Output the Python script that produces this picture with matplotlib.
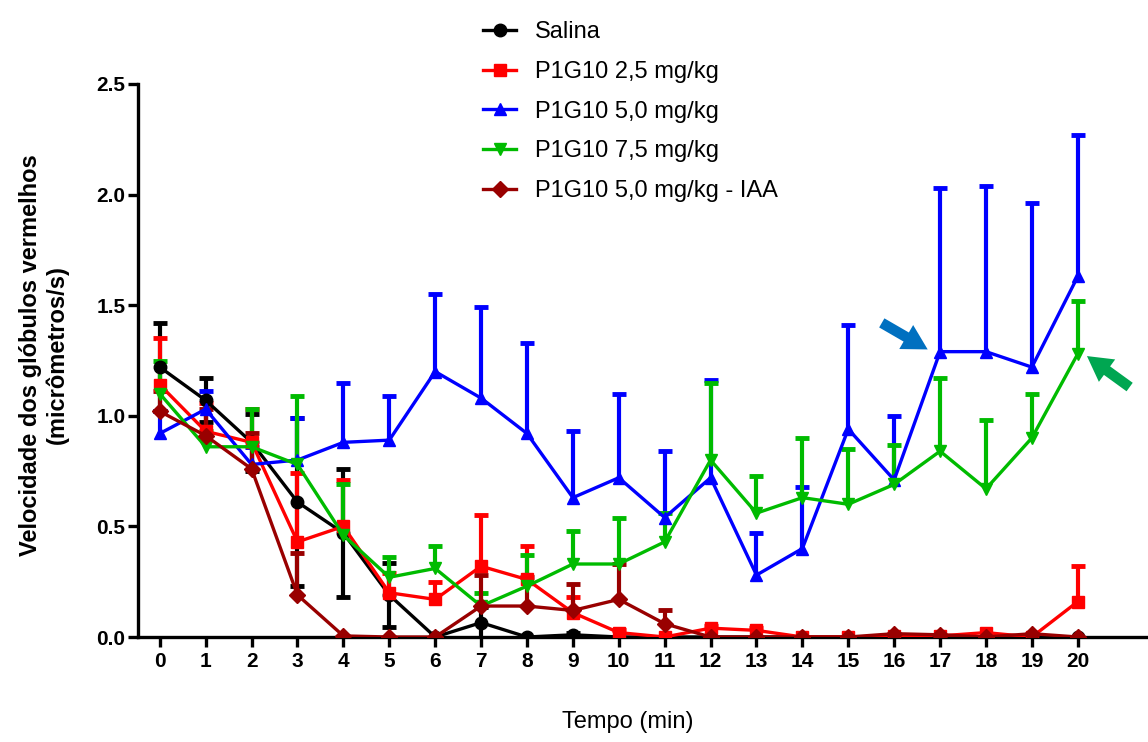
import matplotlib
matplotlib.use('Agg')
import matplotlib.pyplot as plt
import numpy as np

plt.rcParams['font.family'] = ['Liberation Sans', 'DejaVu Sans']

tempo = list(range(21))

# Salina (barras de erro nos dois sentidos)
salina = [1.22, 1.07, 0.88, 0.61, 0.47, 0.19, 0.0, 0.065, 0.0, 0.01, 0.0,
          0.0, 0.0, 0.0, 0.0, 0.0, 0.0, 0.0, 0.0, 0.0, 0.0]
salina_err = [0.20, 0.10, 0.13, 0.38, 0.29, 0.145, 0.0, 0.07, 0.0, 0.01, 0.0,
              0.0, 0.0, 0.0, 0.0, 0.0, 0.0, 0.0, 0.0, 0.0, 0.0]

# P1G10 2,5 mg/kg
p25 = [1.14, 0.93, 0.88, 0.43, 0.50, 0.20, 0.17, 0.32, 0.26, 0.11, 0.02,
       0.0, 0.04, 0.03, 0.0, 0.0, 0.005, 0.005, 0.02, 0.0, 0.16]
p25_err = [0.21, 0.13, 0.15, 0.31, 0.21, 0.09, 0.08, 0.23, 0.15, 0.07, 0.01,
           0.0, 0.01, 0.01, 0.0, 0.0, 0.0, 0.0, 0.0, 0.0, 0.16]

# P1G10 5,0 mg/kg
p50 = [0.92, 1.03, 0.78, 0.80, 0.88, 0.89, 1.20, 1.08, 0.92, 0.63, 0.72,
       0.54, 0.72, 0.28, 0.40, 0.94, 0.71, 1.29, 1.29, 1.22, 1.63]
p50_err = [0.10, 0.08, 0.08, 0.19, 0.27, 0.20, 0.35, 0.41, 0.41, 0.30, 0.38,
           0.30, 0.44, 0.19, 0.28, 0.47, 0.29, 0.74, 0.75, 0.74, 0.64]

# P1G10 7,5 mg/kg
p75 = [1.10, 0.86, 0.86, 0.78, 0.46, 0.27, 0.31, 0.14, 0.23, 0.33, 0.33,
       0.43, 0.80, 0.56, 0.63, 0.60, 0.69, 0.84, 0.67, 0.90, 1.28]
p75_err = [0.15, 0.07, 0.17, 0.31, 0.23, 0.09, 0.10, 0.06, 0.14, 0.15, 0.21,
           0.13, 0.35, 0.17, 0.27, 0.25, 0.18, 0.33, 0.31, 0.20, 0.24]

# P1G10 5,0 mg/kg - IAA
iaa = [1.02, 0.91, 0.76, 0.19, 0.005, 0.0, 0.0, 0.14, 0.14, 0.12, 0.17,
       0.06, 0.0, 0.0, 0.0, 0.0, 0.015, 0.01, 0.0, 0.015, 0.0]
iaa_err = [0.09, 0.12, 0.16, 0.19, 0.0, 0.0, 0.0, 0.14, 0.13, 0.12, 0.16,
           0.06, 0.0, 0.0, 0.0, 0.0, 0.0, 0.0, 0.0, 0.0, 0.0]

series = [
    ('Salina', salina, salina_err, 'black', 'o', True),
    ('P1G10 2,5 mg/kg', p25, p25_err, '#FF0000', 's', False),
    ('P1G10 5,0 mg/kg', p50, p50_err, '#0000FF', '^', False),
    ('P1G10 7,5 mg/kg', p75, p75_err, '#00BB00', 'v', False),
    ('P1G10 5,0 mg/kg - IAA', iaa, iaa_err, '#990000', 'D', False),
]

fig = plt.figure(figsize=(11.48, 7.42), dpi=100)
ax = fig.add_axes([0.120, 0.1415, 0.878, 0.7453])

handles = []
for label, vals, err, color, mk, both in series:
    vals = np.array(vals)
    err = np.array(err)
    top = vals + err
    bottom = vals - err if both else vals
    show = err > 0
    x = np.array(tempo)[show]
    # barras de erro (so para cima, exceto Salina)
    ax.vlines(x, bottom[show], top[show], color=color, linewidth=3, zorder=2)
    ax.plot(x, top[show], linestyle='none', marker='_', markersize=10,
            markeredgewidth=3.5, color=color, zorder=2)
    if both:
        ax.plot(x, bottom[show], linestyle='none', marker='_', markersize=10,
                markeredgewidth=3.5, color=color, zorder=2)
    ms = 8 if mk == 'D' else 9
    line, = ax.plot(tempo, vals, color=color, marker=mk, markersize=ms,
                    linewidth=2.4, label=label, zorder=3)
    handles.append(line)

ax.set_xlim(-0.48, 21.48)
ax.set_ylim(0, 2.5)
ax.set_xticks(tempo)
ax.set_yticks([0.0, 0.5, 1.0, 1.5, 2.0, 2.5])
ax.set_yticklabels(['0.0', '0.5', '1.0', '1.5', '2.0', '2.5'])
for lab in ax.get_xticklabels() + ax.get_yticklabels():
    lab.set_fontweight('bold')
ax.tick_params(axis='both', labelsize=15, width=2.4, length=7, direction='out')
ax.tick_params(axis='y', pad=2)
ax.spines['top'].set_visible(False)
ax.spines['right'].set_visible(False)
ax.spines['left'].set_linewidth(2.4)
ax.spines['bottom'].set_linewidth(2.4)

fig.text(44 / 1148, 1 - 355 / 742,
         'Velocidade dos glóbulos vermelhos\n(micrômetros/s)',
         rotation=90, ha='center', va='center', multialignment='center',
         fontsize=17, fontweight='bold')
fig.text(628 / 1148, 1 - 722 / 742, 'Tempo (min)', ha='center', va='center',
         fontsize=17)

fig.legend(handles=handles, loc='upper left', bbox_to_anchor=(462 / 1148, 1.0),
           frameon=False, fontsize=17, handlelength=1.4, handletextpad=0.8,
           labelspacing=0.75)

# setas
arrow_style = 'simple,head_length=0.85,head_width=0.95,tail_width=0.36'
ax.annotate('', xy=(16.73, 1.30), xytext=(15.73, 1.42),
            arrowprops=dict(arrowstyle=arrow_style, color='#0070C0',
                            mutation_scale=21, shrinkA=0, shrinkB=0, lw=0),
            annotation_clip=False)
ax.annotate('', xy=(20.20, 1.27), xytext=(21.13, 1.13),
            arrowprops=dict(arrowstyle=arrow_style, color='#00A651',
                            mutation_scale=21, shrinkA=0, shrinkB=0, lw=0),
            annotation_clip=False)

plt.savefig('out.png', dpi=100, facecolor='white')
